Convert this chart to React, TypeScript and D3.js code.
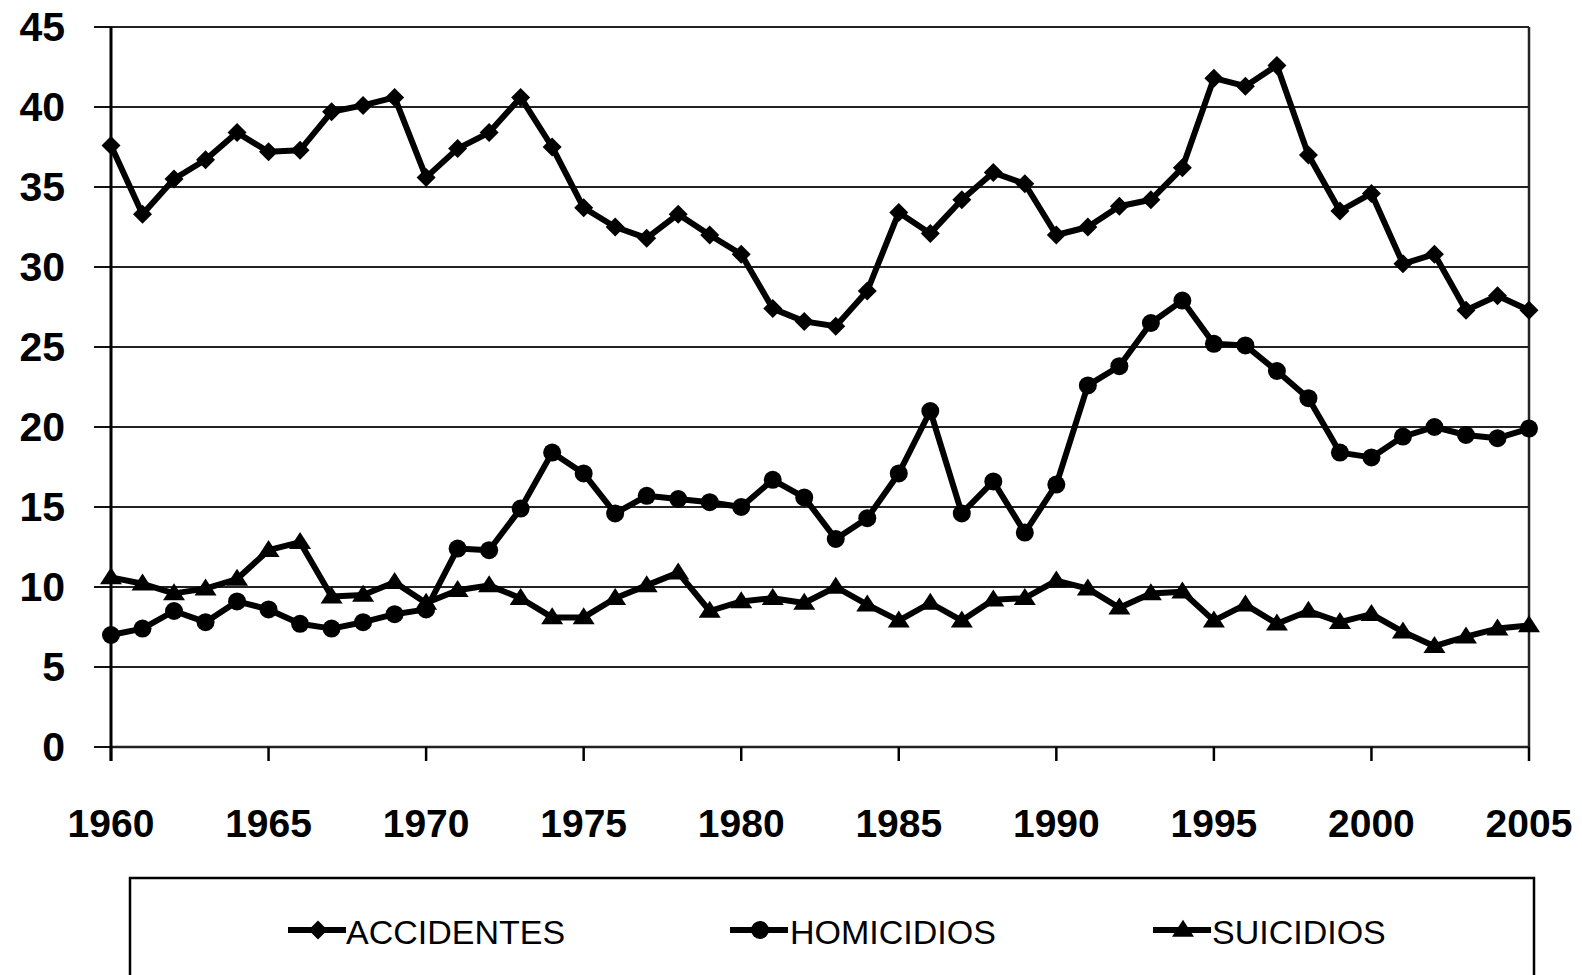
import React from "react";
import * as d3 from "d3";

const years: number[] = d3.range(1960, 2006);
const accidentes: number[] = [
  37.6, 33.3, 35.5, 36.7, 38.4, 37.2, 37.3, 39.7, 40.1, 40.6,
  35.6, 37.4, 38.4, 40.6, 37.5, 33.7, 32.5, 31.8, 33.3, 32.0,
  30.8, 27.4, 26.6, 26.3, 28.5, 33.4, 32.1, 34.2, 35.9, 35.2,
  32.0, 32.5, 33.8, 34.2, 36.2, 41.8, 41.3, 42.6, 37.0, 33.5,
  34.6, 30.2, 30.8, 27.3, 28.2, 27.3,
];
const homicidios: number[] = [
  7.0, 7.4, 8.5, 7.8, 9.1, 8.6, 7.7, 7.4, 7.8, 8.3,
  8.6, 12.4, 12.3, 14.9, 18.4, 17.1, 14.6, 15.7, 15.5, 15.3,
  15.0, 16.7, 15.6, 13.0, 14.3, 17.1, 21.0, 14.6, 16.6, 13.4,
  16.4, 22.6, 23.8, 26.5, 27.9, 25.2, 25.1, 23.5, 21.8, 18.4,
  18.1, 19.4, 20.0, 19.5, 19.3, 19.9,
];
const suicidios: number[] = [
  10.6, 10.2, 9.6, 9.9, 10.5, 12.3, 12.8, 9.4, 9.5, 10.3,
  9.0, 9.8, 10.1, 9.3, 8.1, 8.1, 9.3, 10.1, 10.9, 8.5,
  9.1, 9.3, 9.0, 10.0, 8.9, 7.9, 9.0, 7.9, 9.2, 9.3,
  10.4, 9.9, 8.7, 9.6, 9.7, 7.9, 8.9, 7.7, 8.5, 7.8,
  8.3, 7.2, 6.3, 6.9, 7.4, 7.6,
];
const yTicks: number[] = [0, 5, 10, 15, 20, 25, 30, 35, 40, 45];
const xTicks: number[] = [1960, 1965, 1970, 1975, 1980, 1985, 1990, 1995, 2000, 2005];
const seriesNames: string[] = ["ACCIDENTES", "HOMICIDIOS", "SUICIDIOS"];
const seriesMarkers: string[] = ["diamond", "circle", "triangle"];

const W = 1582;
const H = 975;
const plotLeft = 111;
const plotRight = 1529;
const plotTop = 27;
const plotBottom = 747;

const x = d3.scaleLinear().domain([1960, 2005]).range([plotLeft, plotRight]);
const y = d3.scaleLinear().domain([0, 45]).range([plotBottom, plotTop]);

function markerPath(kind: string, cx: number, cy: number): string {
  if (kind === "diamond") {
    const r = 9.5;
    return `M${cx},${cy - r}L${cx + r},${cy}L${cx},${cy + r}L${cx - r},${cy}Z`;
  }
  if (kind === "triangle") {
    const w = 11, h = 17;
    return `M${cx},${cy - h * 0.6}L${cx + w},${cy + h * 0.4}L${cx - w},${cy + h * 0.4}Z`;
  }
  const r = 9;
  return `M${cx - r},${cy}a${r},${r} 0 1,0 ${2 * r},0a${r},${r} 0 1,0 ${-2 * r},0Z`;
}

const seriesData: number[][] = [accidentes, homicidios, suicidios];

export default function App() {
  const line = d3
    .line<number>()
    .x((_, i) => x(years[i]))
    .y((v) => y(v));

  const legendItems = [
    { lineX: 288, textX: 346 },
    { lineX: 730, textX: 790 },
    { lineX: 1153, textX: 1212 },
  ];
  const legendY = 930;

  return (
    <svg
      width={W}
      height={H}
      viewBox={`0 0 ${W} ${H}`}
      style={{ position: "absolute", left: 0, top: 0, display: "block", background: "#fff" }}
    >
      <rect x={0} y={0} width={W} height={H} fill="#fff" />
      {yTicks.map((t) => (
        <g key={"g" + t}>
          <line x1={plotLeft} x2={plotRight} y1={y(t)} y2={y(t)} stroke="#222" strokeWidth={t === 0 ? 2.5 : 2} />
          <line x1={94} x2={plotLeft} y1={y(t)} y2={y(t)} stroke="#111" strokeWidth={2} />
          <text
            x={65}
            y={y(t)}
            textAnchor="end"
            dominantBaseline="central"
            fontFamily="'Liberation Sans', Arial, sans-serif"
            fontWeight="bold"
            fontSize={41}
            fill="#000"
          >
            {t}
          </text>
        </g>
      ))}
      <line x1={plotRight} x2={plotRight} y1={plotTop} y2={plotBottom} stroke="#222" strokeWidth={2.5} />
      <line x1={plotLeft} x2={plotLeft} y1={plotTop} y2={plotBottom + 14} stroke="#000" strokeWidth={3} />
      {xTicks.map((t) => (
        <g key={"x" + t}>
          <line x1={x(t)} x2={x(t)} y1={plotBottom} y2={plotBottom + 14} stroke="#000" strokeWidth={2.5} />
          <text
            x={x(t)}
            y={837}
            textAnchor="middle"
            fontFamily="'Liberation Sans', Arial, sans-serif"
            fontWeight="bold"
            fontSize={39}
            fill="#000"
          >
            {t}
          </text>
        </g>
      ))}
      {seriesData.map((data, si) => (
        <g key={"s" + si}>
          <path d={line(data) || ""} fill="none" stroke="#000" strokeWidth={6} strokeLinejoin="round" />
          {data.map((v, i) => (
            <path key={i} d={markerPath(seriesMarkers[si], x(years[i]), y(v))} fill="#000" />
          ))}
        </g>
      ))}
      <rect x={130} y={878} width={1404} height={120} fill="#fff" stroke="#000" strokeWidth={2.5} />
      {seriesNames.map((name, i) => (
        <g key={"l" + i}>
          <line x1={legendItems[i].lineX} x2={legendItems[i].lineX + 58} y1={legendY} y2={legendY} stroke="#000" strokeWidth={6} />
          <path d={markerPath(seriesMarkers[i], legendItems[i].lineX + 30, legendY)} fill="#000" />
          <text
            x={legendItems[i].textX}
            y={legendY + 14}
            fontFamily="'Liberation Sans', Arial, sans-serif"
            fontSize={34}
            fill="#000"
          >
            {name}
          </text>
        </g>
      ))}
    </svg>
  );
}
